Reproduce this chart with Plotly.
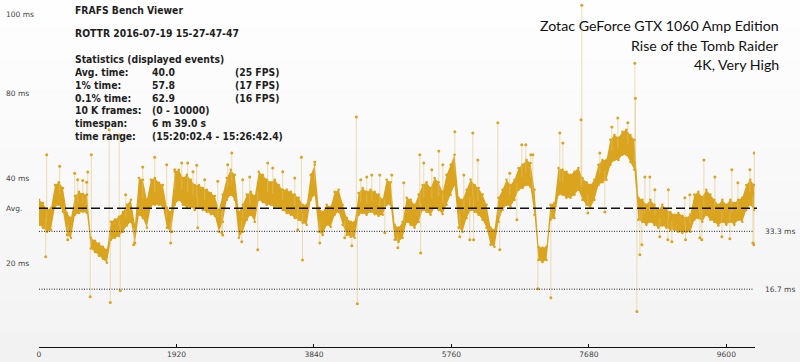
import numpy as np
import plotly.graph_objects as go

# ---------------- data (frame time in ms) ----------------
band_hi = [42.4, 41.5, 39.5, 40.0, 46.7, 47.5, 45.8, 38.6, 37.2, 43.5, 44.7, 44.1, 43.9,
           31.5, 30.6, 29.8, 28.9, 28.0, 36.1, 36.7, 37.5, 38.9, 41.0, 42.4, 35.2, 48.7,
           48.2, 42.4, 48.2, 48.7, 47.3, 46.7, 40.1, 38.9, 50.5, 51.1, 48.7, 49.6, 48.2,
           46.7, 46.7, 45.8, 45.3, 44.4, 43.5, 39.5, 43.9, 48.7, 51.1, 49.6, 38.9, 41.0,
           43.9, 44.7, 43.5, 50.5, 49.6, 48.2, 47.5, 48.2, 46.7, 45.3, 45.3, 44.7, 43.9,
           43.0, 41.0, 41.0, 49.6, 52.5, 40.1, 38.9, 41.0, 40.4, 44.7, 45.3, 41.0, 37.2,
           36.1, 36.1, 44.4, 45.8, 44.7, 45.3, 44.7, 43.9, 42.4, 48.2, 47.5, 35.2, 34.4,
           36.1, 43.0, 42.4, 41.0, 43.9, 46.7, 47.5, 45.8, 48.7, 47.5, 44.7, 49.6, 52.5,
           55.4, 43.0, 42.4, 45.3, 48.2, 46.7, 45.8, 43.9, 41.0, 34.4, 33.8, 43.0, 45.3,
           48.2, 46.7, 48.2, 51.6, 52.5, 53.9, 53.0, 45.3, 28.9, 28.6, 28.9, 41.0, 41.5,
           51.6, 51.1, 50.5, 49.6, 50.5, 51.6, 48.7, 47.5, 46.7, 48.2, 52.5, 53.9, 53.9,
           59.7, 61.1, 60.3, 62.0, 62.6, 61.1, 59.7, 43.0, 42.4, 41.0, 42.4, 41.0, 39.5,
           41.0, 39.5, 38.9, 38.1, 38.6, 37.8, 37.2, 38.1, 43.9, 44.7, 43.2, 45.3, 43.9,
           42.4, 41.0, 42.4, 41.0, 42.4, 41.5, 42.4, 43.0, 46.7, 48.2, 46.7]
band_lo = [35.2, 34.4, 33.2, 33.8, 40.4, 41.0, 39.0, 32.3, 31.5, 38.1, 38.6, 39.0, 38.6,
           28.4, 27.4, 26.3, 25.4, 24.3, 30.9, 31.5, 32.0, 33.2, 35.0, 36.1, 30.0, 38.1,
           37.2, 34.4, 40.6, 41.0, 41.0, 40.4, 34.4, 33.2, 41.0, 42.4, 41.0, 40.1, 40.4,
           39.5, 40.1, 39.5, 39.0, 38.3, 37.8, 33.2, 36.1, 42.4, 43.9, 42.4, 31.5, 33.2,
           36.7, 38.1, 36.1, 42.4, 41.8, 41.0, 41.0, 40.1, 40.4, 39.5, 38.6, 38.1, 37.2,
           36.7, 35.8, 35.2, 42.4, 43.9, 33.2, 32.3, 35.2, 34.6, 38.1, 39.0, 35.2, 32.3,
           31.8, 31.5, 38.1, 38.6, 38.1, 39.0, 38.3, 37.8, 38.1, 41.0, 41.0, 30.9, 30.3,
           31.5, 36.1, 35.2, 34.4, 36.1, 39.5, 39.0, 38.1, 40.1, 39.5, 38.3, 41.0, 43.9,
           46.7, 34.4, 33.2, 37.2, 39.5, 39.0, 38.1, 36.7, 34.4, 29.5, 28.9, 36.1, 39.5,
           41.0, 40.4, 42.4, 45.3, 45.8, 46.7, 46.1, 38.1, 25.1, 24.5, 25.1, 36.7, 37.2,
           43.9, 43.9, 43.0, 43.0, 43.9, 45.3, 42.4, 41.0, 40.1, 42.4, 46.7, 47.5, 48.2,
           52.5, 53.9, 53.9, 55.4, 55.4, 53.3, 51.1, 36.7, 36.1, 35.2, 36.1, 35.2, 34.4,
           35.0, 34.4, 33.8, 33.8, 33.2, 32.9, 33.2, 33.2, 36.7, 37.2, 36.1, 38.1, 36.7,
           36.1, 35.0, 36.1, 35.2, 36.1, 35.2, 36.7, 36.1, 39.5, 41.0, 39.5]
band_frames = np.linspace(0, 9990, len(band_hi))

# isolated frames (spikes) : frame index, frame time (ms)
spike_frames = [108, 289, 499, 541, 611, 666, 680, 730, 980, 1120, 1211, 1449, 1616, 1784,
                1896, 1993, 2077, 2150, 2203, 2315, 2497, 2636, 2692, 2845, 2943, 3195,
                3265, 3404, 3572, 3665, 3852, 4432, 4494, 4578, 4648, 4760, 4927, 5095,
                5319, 5374, 5486, 5584, 5640, 5808, 5933, 6059, 6129, 6408, 6575, 6743,
                6799, 6869, 6897, 7274, 7316, 7570, 7581, 7833, 8001, 8084, 8224, 8322,
                8330, 8462, 8531, 8601, 8790, 9020, 9090, 9286, 9440, 9677, 9761, 9929,
                9990,
                94, 401, 715, 995, 1135, 1323, 1337, 1840, 1854, 2217, 2553, 2566, 2832,
                3055, 3614, 3680, 3922, 4270, 4369, 4446, 4829, 5012, 5330, 5877, 6017,
                6070, 6436, 6674, 6967, 7149, 7665, 7903, 8350, 8392, 8420, 8671, 8783,
                8839, 9030, 9230, 9258, 9537, 9649, 9971, 9985]
spike_ms = [55.4, 52.1, 50.1, 48.2, 48.0, 47.5, 50.4, 55.4, 62.6, 61.1, 43.9, 51.9, 54.7, 52.5,
            51.1, 53.0, 53.0, 50.5, 52.4, 48.2, 47.8, 52.5, 55.9, 48.2, 49.0, 53.0,
            51.6, 50.5, 48.7, 54.7, 53.3, 66.3, 48.2, 49.0, 49.6, 49.6, 49.6, 47.3,
            55.4, 53.0, 51.1, 56.5, 52.5, 62.0, 49.6, 61.7, 53.9, 64.6, 50.1, 58.3,
            58.3, 55.4, 55.4, 61.7, 58.8, 65.5, 98.5, 55.9, 63.4, 66.0, 64.6, 81.8,
            71.7, 49.0, 49.0, 45.3, 45.3, 43.0, 43.9, 53.9, 49.0, 51.1, 47.3, 51.1,
            55.9,
            26.0, 30.9, 14.5, 12.8, 16.2, 29.5, 30.0, 30.0, 33.2, 34.4, 32.9, 32.3, 30.3,
            28.0, 33.8, 25.1, 30.0, 31.5, 29.2, 12.5, 32.9, 28.6, 27.1, 31.8, 30.9,
            30.9, 28.0, 36.7, 16.8, 14.2, 38.6, 38.9, 10.2, 26.6, 29.5, 31.8, 30.9,
            30.3, 30.9, 31.5, 30.9, 31.8, 31.2, 30.0, 29.5]

x_ticks = [0, 1920, 3840, 5760, 7680, 9600]
avg_ms = 40.0
ref_ms = [1000 / 30, 1000 / 60]
ref_labels = ["33.3 ms", "16.7 ms"]

stats_rows = [("Avg. time:", "40.0", "(25 FPS)"),
              ("1% time:", "57.8", "(17 FPS)"),
              ("0.1% time:", "62.9", "(16 FPS)"),
              ("10 K frames:", "(0 - 10000)", ""),
              ("timespan:", "6 m 39.0 s", ""),
              ("time range:", "(15:20:02.4 - 15:26:42.4)", "")]
title_lines = ["Zotac GeForce GTX 1060 Amp Edition", "Rise of the Tomb Raider", "4K, Very High"]

# ---------------- styling ----------------
GOLD = "rgb(218,164,30)"
LIGHT = "rgba(226,196,120,0.55)"
W, H = 800, 362
L, R, T, B = 39, 45, 0, 15
PW, PH = W - L - R, H - T - B


def px(x):
    return (x - L) / PW


def py(y):
    return (H - B - y) / PH


fig = go.Figure()

# band of dense frames
fig.add_trace(go.Scatter(x=band_frames, y=band_lo, mode="lines", line=dict(width=0),
                         hoverinfo="skip", showlegend=False))
fig.add_trace(go.Scatter(x=band_frames, y=band_hi, mode="lines", line=dict(width=0),
                         fill="tonexty", fillcolor=GOLD, hoverinfo="skip", showlegend=False))

# spike lines from the band to each isolated frame
base = np.interp(spike_frames, band_frames, (np.array(band_hi) + np.array(band_lo)) / 2)
sx, sy = [], []
for f, v, b0 in zip(spike_frames, spike_ms, base):
    sx += [f, f, None]
    sy += [b0, v, None]
fig.add_trace(go.Scatter(x=sx, y=sy, mode="lines", line=dict(color=LIGHT, width=1),
                         hoverinfo="skip", showlegend=False))

# ragged edge dots and spike tips
fig.add_trace(go.Scatter(x=np.concatenate([band_frames, band_frames]),
                         y=np.concatenate([band_hi, band_lo]), mode="markers",
                         marker=dict(color=GOLD, size=2.6), hoverinfo="skip", showlegend=False))
fig.add_trace(go.Scatter(x=spike_frames, y=spike_ms, mode="markers",
                         marker=dict(color=GOLD, size=3), showlegend=False))

# reference lines
shapes = []
# soft background gradient
nband = 12
for i in range(nband):
    g = 254 - int(12 * i / (nband - 1))
    shapes.append(dict(type="rect", xref="paper", yref="paper", layer="below",
                       x0=-L / PW, x1=1 + R / PW,
                       y0=1 - (i + 1) * (H / PH) / nband, y1=1 - i * (H / PH) / nband,
                       fillcolor=f"rgb({g},{g},{g})", line=dict(width=0)))
shapes.append(dict(type="line", xref="paper", yref="y", x0=0, x1=px(757), y0=avg_ms, y1=avg_ms,
                   line=dict(color="#111", width=1.6, dash="9px,4px"), layer="above"))
for v in ref_ms:
    shapes.append(dict(type="line", xref="paper", yref="y", x0=0, x1=px(753), y0=v, y1=v,
                       line=dict(color="#222", width=1, dash="1px,1.5px"), layer="above"))

ann = []
small = dict(family="DejaVu Sans", size=7.5, color="#444")
for txt, ypix in [("100 ms", 15), ("80 ms", 93), ("40 ms", 178), ("Avg.", 208), ("20 ms", 263)]:
    ann.append(dict(text=txt, xref="paper", yref="paper", x=px(3.5), y=py(ypix), xanchor="left",
                    yanchor="middle", showarrow=False, font=small))
for txt, v in zip(ref_labels, ref_ms):
    ann.append(dict(text=txt, xref="paper", yref="y", x=px(763), y=v, xanchor="left",
                    yanchor="middle", showarrow=False, font=small))

bold = dict(family="DejaVu Sans Condensed", size=10.3, color="#1e1e1e")
ann.append(dict(text="<b>FRAFS Bench Viewer</b>", xref="paper", yref="paper", x=px(73), y=py(10),
                xanchor="left", yanchor="middle", showarrow=False, font=bold))
ann.append(dict(text="<b>ROTTR 2016-07-19 15-27-47-47</b>", xref="paper", yref="paper", x=px(73),
                y=py(33), xanchor="left", yanchor="middle", showarrow=False, font=bold))
ann.append(dict(text="<b>Statistics (displayed events)</b>", xref="paper", yref="paper", x=px(73),
                y=py(59), xanchor="left", yanchor="middle", showarrow=False, font=bold))
for i, (a, b, c) in enumerate(stats_rows):
    yy = py(72 + i * 12.8)
    for txt, xx in [(a, 73), (b, 150), (c, 233)]:
        if txt:
            ann.append(dict(text=f"<b>{txt}</b>", xref="paper", yref="paper", x=px(xx), y=yy,
                            xanchor="left", yanchor="middle", showarrow=False, font=bold))

tfont = dict(family="Lato", size=14.2, color="#111")
for txt, ypix in zip(title_lines, [25, 45, 64]):
    ann.append(dict(text=txt, xref="paper", yref="paper", x=px(781), y=py(ypix), xanchor="right",
                    yanchor="middle", showarrow=False, font=tfont))

fig.update_layout(
    width=W, height=H, margin=dict(l=L, r=R, t=T, b=B),
    paper_bgcolor="#f6f6f6", plot_bgcolor="rgba(0,0,0,0)",
    shapes=shapes, annotations=ann, showlegend=False,
    xaxis=dict(range=[0, 10000], tickvals=x_ticks, ticktext=[str(t) for t in x_ticks],
               showline=True, linecolor="#111", linewidth=1, ticks="inside", ticklen=3,
               tickcolor="#111", showgrid=False, zeroline=False, tickfont=small,
               automargin=False, fixedrange=True),
    yaxis=dict(range=[0, 100], visible=False, fixedrange=True),
)

fig.write_html("out.html", config={"displayModeBar": False},
               post_script="document.body.style.margin='0';")
